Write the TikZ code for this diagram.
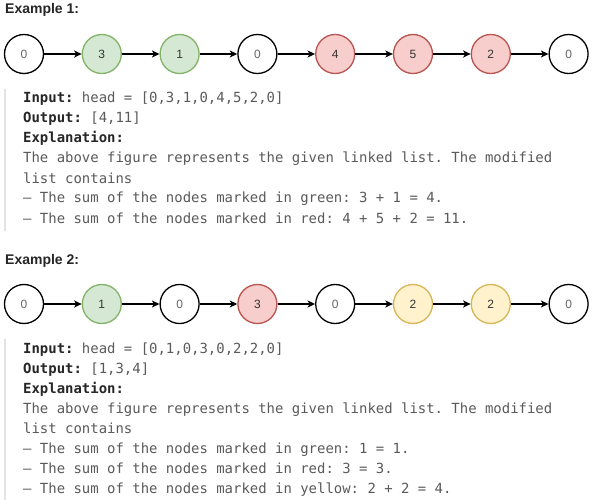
\documentclass[tikz,border=0pt]{standalone}
\usepackage{fontspec}
\setmainfont{Liberation Sans}
\newfontfamily\monof{DejaVu Sans Mono}
\usetikzlibrary{arrows.meta}
\definecolor{gfill}{HTML}{D5E8D4}\definecolor{gline}{HTML}{82B366}
\definecolor{rfill}{HTML}{F8CECC}\definecolor{rline}{HTML}{B85450}
\definecolor{yfill}{HTML}{FFF2CC}\definecolor{yline}{HTML}{D6B656}
\definecolor{bodytxt}{HTML}{5A5A5A}\definecolor{boldtxt}{HTML}{262626}
\definecolor{barc}{HTML}{E3E3E3}
\tikzset{
 lnode/.style={circle,minimum size=39pt,inner sep=0pt,line width=1.3pt,font=\fontsize{12}{14}\selectfont},
 wn/.style={lnode,draw=black,fill=white,text=black!60},
 gn/.style={lnode,draw=gline,fill=gfill,text=black!80},
 rn/.style={lnode,draw=rline,fill=rfill,text=black!80},
 yn/.style={lnode,draw=yline,fill=yfill,text=black!80},
 link/.style={line width=1.5pt,-{Stealth[length=7.5pt,width=7pt,inset=2pt]}},
 title/.style={anchor=base west,inner sep=0pt,font=\fontsize{14}{16}\selectfont\bfseries,text=black!85},
 mline/.style={anchor=base west,inner sep=0pt,font=\monof\fontsize{13.95}{20}\selectfont\frenchspacing,text=bodytxt},
}
\newcommand{\bk}[1]{{\bfseries\color{boldtxt}#1}}
\begin{document}
\begin{tikzpicture}[x=1pt,y=-1pt]
\useasboundingbox[fill=white] (0,0) rectangle (592,500);
% Example 1
\node[title] (t1) at (5,14) {Example 1:};
\node[wn] (a1) at (24,54) {0};
\node[gn] (a2) at (101.8,54) {3};
\node[gn] (a3) at (179.6,54) {1};
\node[wn] (a4) at (257.4,54) {0};
\node[rn] (a5) at (335.2,54) {4};
\node[rn] (a6) at (413,54) {5};
\node[rn] (a7) at (490.8,54) {2};
\node[wn] (a8) at (568.6,54) {0};
\foreach \i/\j in {1/2,2/3,3/4,4/5,5/6,6/7,7/8}{\draw[link] (a\i) -- (a\j);}
\fill[barc] (4,89) rectangle (6,231);
\node[mline] (l1) at (23,103) {\bk{Input:} head = [0,3,1,0,4,5,2,0]};
\node[mline] (l2) at (23,123) {\bk{Output:} [4,11]};
\node[mline] (l3) at (23,143) {\bk{Explanation:}};
\node[mline] (l4) at (23,163) {The above figure represents the given linked list. The modified};
\node[mline] (l5) at (23,183) {list contains};
\node[mline] (l6) at (23,203) {– The sum of the nodes marked in green: 3 + 1 = 4.};
\node[mline] (l7) at (23,223) {– The sum of the nodes marked in red: 4 + 5 + 2 = 11.};
% Example 2
\node[title] (t2) at (5,264) {Example 2:};
\node[wn] (b1) at (24,304) {0};
\node[gn] (b2) at (101.8,304) {1};
\node[wn] (b3) at (179.6,304) {0};
\node[rn] (b4) at (257.4,304) {3};
\node[wn] (b5) at (335.2,304) {0};
\node[yn] (b6) at (413,304) {2};
\node[yn] (b7) at (490.8,304) {2};
\node[wn] (b8) at (568.6,304) {0};
\foreach \i/\j in {1/2,2/3,3/4,4/5,5/6,6/7,7/8}{\draw[link] (b\i) -- (b\j);}
\fill[barc] (4,339) rectangle (6,500);
\node[mline] (m1) at (23,353) {\bk{Input:} head = [0,1,0,3,0,2,2,0]};
\node[mline] (m2) at (23,373) {\bk{Output:} [1,3,4]};
\node[mline] (m3) at (23,393) {\bk{Explanation:}};
\node[mline] (m4) at (23,413) {The above figure represents the given linked list. The modified};
\node[mline] (m5) at (23,433) {list contains};
\node[mline] (m6) at (23,453) {– The sum of the nodes marked in green: 1 = 1.};
\node[mline] (m7) at (23,473) {– The sum of the nodes marked in red: 3 = 3.};
\node[mline] (m8) at (23,493) {– The sum of the nodes marked in yellow: 2 + 2 = 4.};
\end{tikzpicture}
\end{document}
